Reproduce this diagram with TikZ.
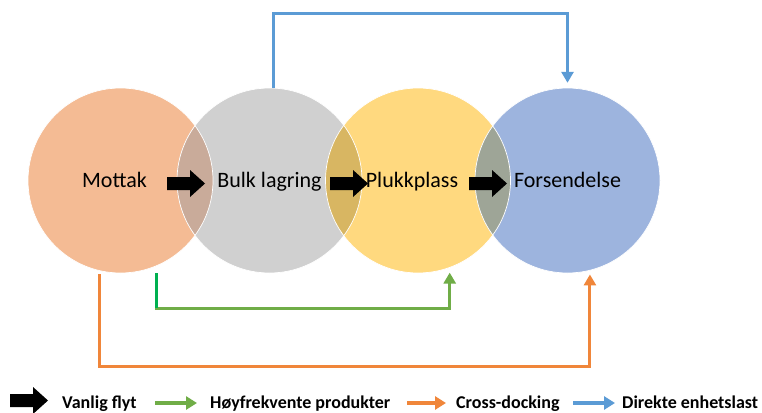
\documentclass[tikz,border=0pt]{standalone}
\usepackage{fontspec}
\setmainfont{Carlito}
\usetikzlibrary{arrows.meta}
\definecolor{cMot}{HTML}{F4BB94}
\definecolor{cBulk}{HTML}{D0D0D0}
\definecolor{cPlukk}{HTML}{FFD97F}
\definecolor{cFors}{HTML}{9DB4DE}
\definecolor{oMB}{HTML}{C9AB9A}
\definecolor{oBP}{HTML}{D8B662}
\definecolor{oPF}{HTML}{9EA597}
\definecolor{lnGreen}{HTML}{70AD47}
\definecolor{lnBright}{HTML}{00B050}
\definecolor{lnOrange}{HTML}{F0863A}
\definecolor{lnBlue}{HTML}{5B9BD5}
\begin{document}
\begin{tikzpicture}[x=1pt,y=-1pt,
  circ/.style={circle, minimum size=185pt, inner sep=0pt},
  rim/.style={draw=white, line width=0.7pt},
  lbl/.style={font=\fontsize{22}{26}\selectfont, anchor=base, inner sep=0pt},
  leg/.style={font=\bfseries\fontsize{18}{22}\selectfont, anchor=base west, inner sep=0pt},
  flow/.style={line width=3pt, line join=miter, -{Triangle[width=12pt,length=11pt]}},
  legarrow/.style={line width=4pt, -{Triangle[width=13pt,length=11pt]}},
  blockarrow/.pic={\fill[black] (0,-6.5) -- (23,-6.5) -- (23,-13.5) -- (38,0) -- (23,13.5) -- (23,6.5) -- (0,6.5) -- cycle;}
]
\useasboundingbox (0,0) rectangle (762,412);
\fill[white] (0,0) rectangle (762,412);

% the four stages
\node[circ, fill=cMot]   (mottak) at (120.5,180.5) {};
\node[circ, fill=cBulk]  (bulk)   at (269.5,180.5) {};
\node[circ, fill=cPlukk] (plukk)  at (418,180.5) {};
\node[circ, fill=cFors]  (fors)   at (567.5,180.5) {};

% overlapping lenses
\begin{scope}
  \clip (mottak.center) circle (92.5pt);
  \fill[oMB] (bulk.center) circle (92.5pt);
\end{scope}
\begin{scope}
  \clip (bulk.center) circle (92.5pt);
  \fill[oBP] (plukk.center) circle (92.5pt);
\end{scope}
\begin{scope}
  \clip (plukk.center) circle (92.5pt);
  \fill[oPF] (fors.center) circle (92.5pt);
\end{scope}
\foreach \n in {mottak,bulk,plukk,fors}
  \draw[rim] (\n.center) circle (92.5pt);

% stage labels
\node[lbl] (tMottak) at (114.5,187) {Mottak};
\node[lbl] (tBulk)   at (269.5,187) {Bulk lagring};
\node[lbl] (tPlukk)  at (412,187)   {Plukkplass};
\node[lbl] (tFors)   at (567.5,187) {Forsendelse};

% ordinary flow arrows
\pic at (167,183.5) {blockarrow};
\pic at (330,183.5) {blockarrow};
\pic at (469,183.5) {blockarrow};

% direct unit load: Bulk lagring -> Forsendelse
\draw[flow, lnBlue, shorten >=5pt] ([xshift=4pt]bulk.north) -- ++(0,-74) -| (fors.north);

% high-frequency products: Mottak -> Plukkplass
\coordinate (g0) at (156,273);
\coordinate (g1) at (156,308);
\draw[flow, lnGreen, shorten >=5pt] (g0) -- (g1) -| (plukk.-70);
\draw[lnBright, line width=3pt] (g0) -- (g1);

% cross-docking: Mottak -> Forsendelse
\coordinate (o0) at (99,274);
\draw[flow, lnOrange, shorten >=4pt] (o0) -- ++(0,92) -| (fors.-76.6);

% legend
\pic at (10,400.5) {blockarrow};
\node[leg] (l1) at (62,408) {Vanlig flyt};
\coordinate (ga) at (155,403); \coordinate (gb) at (197,403);
\draw[legarrow, lnGreen] (ga) -- (gb);
\node[leg] (l2) at (210,408) {Høyfrekvente produkter};
\coordinate (oa) at (407,403); \coordinate (ob) at (446,403);
\draw[legarrow, lnOrange] (oa) -- (ob);
\node[leg] (l3) at (456,408) {Cross-docking};
\coordinate (ba) at (573,403); \coordinate (bb) at (615,403);
\draw[legarrow, lnBlue] (ba) -- (bb);
\node[leg] (l4) at (622,408) {Direkte enhetslast};
\end{tikzpicture}
\end{document}
